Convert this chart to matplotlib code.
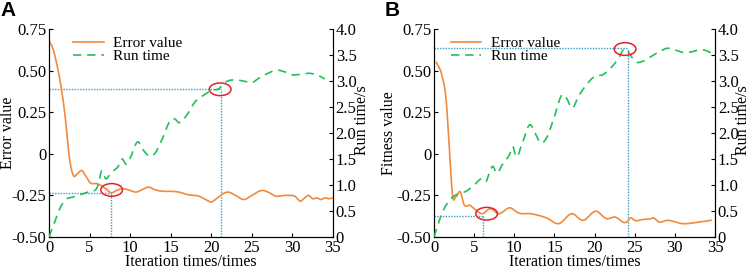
import matplotlib
matplotlib.use("Agg")
import matplotlib.pyplot as plt
from matplotlib.patches import Ellipse
import numpy as np

plt.rcParams['font.family'] = ['Liberation Serif', 'DejaVu Serif']

# ---- Panel A data ----
a_err_x = [0, 0.5, 1, 1.5, 2, 2.4, 2.7, 3, 3.5, 4, 4.5, 5, 6, 7, 7.7, 8.3, 9, 10, 10.7, 11.5, 12.3, 13, 14, 15, 16, 17, 18.5, 19.5, 20, 20.5, 21, 22, 23, 24, 25, 26.3, 27, 28, 29, 29.5, 30.3, 31, 31.5, 32, 32.5, 33, 33.5, 34, 34.5, 35]
a_err_y = [0.68, 0.63, 0.53, 0.40, 0.22, 0.02, -0.08, -0.13, -0.12, -0.10, -0.13, -0.17, -0.18, -0.21, -0.235, -0.22, -0.21, -0.22, -0.23, -0.215, -0.20, -0.215, -0.225, -0.225, -0.23, -0.245, -0.255, -0.28, -0.29, -0.275, -0.255, -0.23, -0.25, -0.275, -0.25, -0.22, -0.23, -0.255, -0.25, -0.25, -0.255, -0.285, -0.265, -0.25, -0.27, -0.265, -0.275, -0.265, -0.27, -0.265]
a_rt_x = [0, 0.5, 1, 1.5, 2, 3, 4, 5, 6, 6.5, 7, 7.5, 8, 8.5, 9, 9.5, 10, 11, 11.5, 12, 12.5, 13, 14, 15, 15.5, 16, 17, 18, 19, 20, 21, 21.5, 22, 23, 24, 25, 26, 27, 28, 29, 30, 31, 32, 33, 34]
a_rt_y = [0, 0.2, 0.42, 0.6, 0.71, 0.77, 0.82, 0.88, 0.98, 1.27, 1.12, 1.2, 1.28, 1.35, 1.5, 1.4, 1.52, 1.83, 1.7, 1.6, 1.55, 1.6, 1.9, 2.25, 2.27, 2.2, 2.35, 2.6, 2.72, 2.82, 2.86, 2.95, 3.0, 3.02, 3.0, 2.97, 3.07, 3.15, 3.21, 3.18, 3.12, 3.13, 3.15, 3.12, 3.04]

# ---- Panel B data ----
b_err_x = [0.3, 1, 1.5, 2, 2.3, 2.7, 3.3, 3.7, 4.5, 5, 6, 7, 8, 9.5, 10.5, 12, 14, 15.5, 17.2, 18.5, 20.2, 21.5, 22.5, 24, 24.5, 25, 26, 27, 27.3, 28, 29, 31, 33, 34.5]
b_err_y = [0.55, 0.47, 0.33, -0.035, -0.25, -0.26, -0.23, -0.3, -0.31, -0.33, -0.36, -0.33, -0.36, -0.325, -0.355, -0.36, -0.385, -0.42, -0.36, -0.40, -0.345, -0.39, -0.38, -0.41, -0.385, -0.40, -0.395, -0.39, -0.385, -0.41, -0.40, -0.42, -0.41, -0.40]
b_rt_x = [0, 1, 2, 3, 4, 5, 6, 6.5, 7, 7.3, 7.8, 8.5, 9.5, 9.8, 10.2, 11, 12, 12.5, 13.3, 14, 15, 16, 16.5, 17.2, 18, 19, 20, 21, 22, 23, 23.7, 24.3, 25, 26, 27, 28, 29, 30, 31, 32, 33, 34, 34.5]
b_rt_y = [0, 0.46, 0.72, 0.83, 0.88, 1.0, 1.12, 1.07, 1.29, 1.36, 1.23, 1.39, 1.62, 1.74, 1.55, 1.81, 2.16, 2.03, 1.81, 1.9, 2.32, 2.74, 2.67, 2.48, 2.71, 2.93, 3.09, 3.12, 3.25, 3.44, 3.62, 3.54, 3.38, 3.38, 3.47, 3.56, 3.63, 3.6, 3.55, 3.56, 3.6, 3.58, 3.54]

# marker (dotted guide) points: (x, left-axis y)
a_marks = [(7.7, -0.235), (21.15, 0.388)]
b_marks = [(6.05, -0.372), (24.1, 0.636)]
a_circles = [(7.72, -0.217), (21.1, 0.388)]
b_circles = [(6.56, -0.36), (23.8, 0.63)]

x_ticks = [0, 5, 10, 15, 20, 25, 30, 35]
left_ticks = [-0.50, -0.25, 0, 0.25, 0.50, 0.75]
left_labels = ['-0.50', '-0.25', '0', '0.25', '0.50', '0.75']
right_ticks = [0, 0.5, 1.0, 1.5, 2.0, 2.5, 3.0, 3.5, 4.0]
right_labels = ['0', '0.5', '1.0', '1.5', '2.0', '2.5', '3.0', '3.5', '4.0']

ORANGE = '#f08a3c'
GREEN = '#22bf5c'
BLUE = '#3a9cc4'
RED = '#e8202a'

def smooth(x, y, n=600):
    x = np.asarray(x, float); y = np.asarray(y, float)
    xs = np.linspace(x[0], x[-1], n)
    m = np.gradient(y, x)
    idx = np.clip(np.searchsorted(x, xs) - 1, 0, len(x) - 2)
    x0, x1 = x[idx], x[idx + 1]
    h = x1 - x0
    t = (xs - x0) / h
    h00 = 2*t**3 - 3*t**2 + 1; h10 = t**3 - 2*t**2 + t
    h01 = -2*t**3 + 3*t**2; h11 = t**3 - t**2
    ys = h00*y[idx] + h10*h*m[idx] + h01*y[idx+1] + h11*h*m[idx+1]
    return xs, ys

fig = plt.figure(figsize=(7.54, 2.67), dpi=100)

def panel(rect, label, ylabel, ex, ey, rx, ry, marks, circles, px_per_x,
          ylab_x, rlab_x, leg_x):
    ax = fig.add_axes(rect)
    ax2 = ax.twinx()
    ax.set_xlim(0, 35)
    ax.set_ylim(-0.5, 0.75)
    ax2.set_ylim(0, 4.0)
    l1, = ax.plot(*smooth(ex, ey), color=ORANGE, lw=1.2, label='Error value', zorder=3)
    l2, = ax2.plot(*smooth(rx, ry), color=GREEN, lw=1.2, ls=(0, (5, 3.5)), label='Run time', zorder=3)
    for (mx, my) in marks:
        ax.plot([0, mx], [my, my], color=BLUE, lw=1.0, ls=(0, (1, 1)), zorder=2)
        ax.plot([mx, mx], [-0.5, my], color=BLUE, lw=1.0, ls=(0, (1, 1)), zorder=2)
    for (cx, cy) in circles:
        w = 21.7 / px_per_x
        h = 12.7 / 166.4
        ax2.add_patch(Ellipse((cx, (cy + 0.5) * 3.2), w, h * 3.2, fill=False,
                              ec=RED, lw=1.1, zorder=5))
    ax.set_xticks(x_ticks)
    ax.set_yticks(left_ticks)
    ax.set_yticklabels(left_labels)
    ax2.set_yticks(right_ticks)
    ax2.set_yticklabels(right_labels)
    for a in (ax, ax2):
        a.tick_params(direction='in', length=3, width=0.8, labelsize=12, pad=2)
        a.spines['top'].set_visible(False)
    ax.set_xlabel('Iteration times/times', fontsize=11.5, labelpad=-1)
    ax.set_ylabel(ylabel, fontsize=11.5)
    ax.yaxis.set_label_coords(ylab_x, 0.5)
    ax2.set_ylabel('Run time/s', fontsize=11.5)
    ax2.yaxis.set_label_coords(rlab_x, 0.56)
    ax.legend(handles=[l1, l2], loc='upper left', bbox_to_anchor=(leg_x, 0.965),
              frameon=False, fontsize=11, handlelength=2.0, handletextpad=0.6,
              labelspacing=-0.05, borderaxespad=0, borderpad=0)
    fig.text(rect[0] - 0.065, 0.995, label, fontsize=15, fontweight='bold',
             family='Liberation Sans', va='top', ha='left')
    return ax

panel([0.065, 0.1124, 0.3766, 0.7787], 'A', 'Error value',
      a_err_x, a_err_y, a_rt_x, a_rt_y, a_marks, a_circles, 284/35,
      -0.118, 1.075, 0.085)
panel([0.5756, 0.1124, 0.3727, 0.7787], 'B', 'Fitness value',
      b_err_x, b_err_y, b_rt_x, b_rt_y, b_marks, b_circles, 281/35,
      -0.13, 1.072, 0.06)

fig.savefig('out.png', dpi=100)
